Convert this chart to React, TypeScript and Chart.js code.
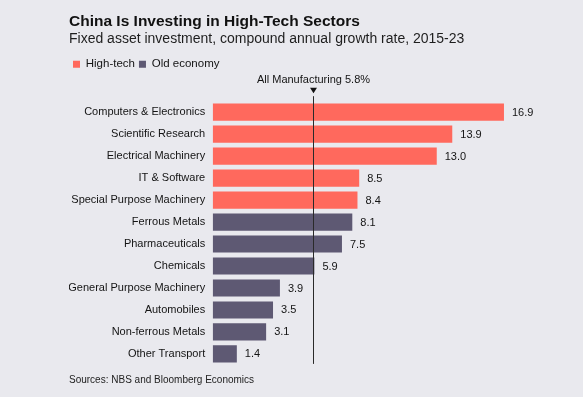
import React, { useEffect, useRef } from "react";
import { Chart, registerables } from "chart.js";

Chart.register(...registerables);

const categories = [
  "Computers & Electronics",
  "Scientific Research",
  "Electrical Machinery",
  "IT & Software",
  "Special Purpose Machinery",
  "Ferrous Metals",
  "Pharmaceuticals",
  "Chemicals",
  "General Purpose Machinery",
  "Automobiles",
  "Non-ferrous Metals",
  "Other Transport",
];
const highTech = [16.9, 13.9, 13.0, 8.5, 8.4, null, null, null, null, null, null, null];
const oldEconomy = [null, null, null, null, null, 8.1, 7.5, 5.9, 3.9, 3.5, 3.1, 1.4];
const allManufacturing = 5.8;
const referenceLabel = "All Manufacturing 5.8%";
const titleText = "China Is Investing in High-Tech Sectors";
const subtitleText = "Fixed asset investment, compound annual growth rate, 2015-23";
const sourceText = "Sources: NBS and Bloomberg Economics";
const xMin = 0;
const xMax = 20;

const FONT = "'Liberation Sans', Arial, Helvetica, sans-serif";
const RED = "#ff695d";
const PURPLE = "#5e5973";
const TEXT = "#141414";
const BG = "#e9e9ee";

const overlayPlugin = {
  id: "overlay",
  afterDatasetsDraw(chart: any) {
    const { ctx, chartArea } = chart;
    const xs = chart.scales.x;
    ctx.save();
    // value labels
    ctx.font = `11px ${FONT}`;
    ctx.fillStyle = TEXT;
    ctx.textBaseline = "middle";
    ctx.textAlign = "left";
    chart.data.datasets.forEach((ds: any, di: number) => {
      const meta = chart.getDatasetMeta(di);
      meta.data.forEach((el: any, i: number) => {
        const v = ds.data[i];
        if (v === null || v === undefined) return;
        ctx.fillText(Number(v).toFixed(1), el.x + 8, el.y + 0.5);
      });
    });
    // reference line
    const x = Math.round(xs.getPixelForValue(allManufacturing)) + 0.5;
    ctx.strokeStyle = "#2a2a2a";
    ctx.lineWidth = 1;
    ctx.beginPath();
    ctx.moveTo(x, chartArea.top - 5);
    ctx.lineTo(x, chartArea.bottom - 1);
    ctx.stroke();
    // triangle
    ctx.fillStyle = "#111";
    ctx.beginPath();
    ctx.moveTo(x - 3.5, chartArea.top - 13.5);
    ctx.lineTo(x + 3.5, chartArea.top - 13.5);
    ctx.lineTo(x, chartArea.top - 8);
    ctx.closePath();
    ctx.fill();
    // label
    ctx.fillStyle = TEXT;
    ctx.textAlign = "center";
    ctx.font = `11px ${FONT}`;
    ctx.fillText(referenceLabel, x, chartArea.top - 21.5);
    // source
    ctx.textAlign = "left";
    ctx.font = `10px ${FONT}`;
    ctx.fillStyle = "#222";
    ctx.fillText(sourceText, 69, chartArea.bottom + 15.5);
    ctx.restore();
  },
};

export default function App() {
  const ref = useRef<HTMLCanvasElement | null>(null);
  useEffect(() => {
    if (!ref.current) return;
    const chart = new Chart(ref.current, {
      type: "bar",
      data: {
        labels: categories,
        datasets: [
          {
            label: "High-tech",
            data: highTech as any,
            backgroundColor: RED,
            borderWidth: 0,
            categoryPercentage: 1,
            barPercentage: 0.78,
          },
          {
            label: "Old economy",
            data: oldEconomy as any,
            backgroundColor: PURPLE,
            borderWidth: 0,
            categoryPercentage: 1,
            barPercentage: 0.78,
          },
        ],
      },
      options: {
        indexAxis: "y",
        animation: false,
        responsive: false,
        maintainAspectRatio: false,
        devicePixelRatio: 1,
        layout: { padding: { left: 69, right: 25.6, top: 0, bottom: 32.1 } },
        font: { family: FONT },
        scales: {
          x: {
            type: "linear",
            position: "top",
            min: xMin,
            max: xMax,
            stacked: true,
            grid: { display: false, drawTicks: false },
            border: { display: false },
            ticks: { display: false },
            afterFit: (s: any) => {
              s.height = 21.15;
            },
          },
          y: {
            type: "category",
            stacked: true,
            grid: { display: false, drawTicks: false },
            border: { display: false },
            ticks: {
              autoSkip: false,
              padding: 7.5,
              color: TEXT,
              font: { family: FONT, size: 11 },
            },
            afterFit: (s: any) => {
              s.width = 143.7;
            },
          },
        },
        plugins: {
          title: {
            display: true,
            text: titleText,
            align: "start",
            color: "#111",
            font: { family: FONT, size: 15.5, weight: "bold", lineHeight: 1.2 },
            padding: { top: 12.7, bottom: 0 },
          },
          subtitle: {
            display: true,
            text: subtitleText,
            align: "start",
            color: "#1e1e1e",
            font: { family: FONT, size: 14, lineHeight: 1.1 },
            padding: { top: 0, bottom: 7.85 },
          },
          legend: {
            display: true,
            align: "start",
            labels: {
              boxWidth: 7,
              boxHeight: 7,
              padding: 4,
              color: TEXT,
              font: { family: FONT, size: 11.5 },
            },
          },
          tooltip: { enabled: false },
        },
      },
      plugins: [overlayPlugin],
    } as any);
    return () => chart.destroy();
  }, []);
  return (
    <div
      style={{
        position: "fixed",
        left: 0,
        top: 0,
        width: 583,
        height: 397,
        background: BG,
      }}
    >
      <canvas ref={ref} width={583} height={397} style={{ width: 583, height: 397, display: "block" }} />
    </div>
  );
}
